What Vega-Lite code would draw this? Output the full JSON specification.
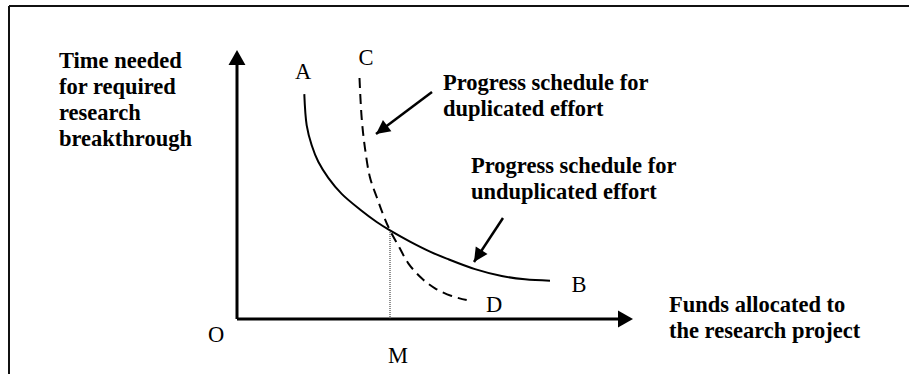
{
  "$schema": "https://vega.github.io/schema/vega-lite/v6.json",
  "width": 909,
  "height": 374,
  "padding": 0,
  "autosize": {"type": "none"},
  "background": "white",
  "config": {"view": {"stroke": null}},
  "datasets": {
    "frame": [
      {"x": -228, "y": -80, "x2": -228, "y2": 313},
      {"x": -228, "y": 313, "x2": 690, "y2": 313}
    ],
    "axes": [
      {"x": 0, "y": 0, "x2": 0, "y2": 258},
      {"x": 0, "y": 0, "x2": 385, "y2": 0}
    ],
    "yHead": [{"x": 0, "y": 269}],
    "xHead": [{"x": 396, "y": 0}],
    "unduplicated": [
      {"x": 67.3, "y": 224.9},
      {"x": 69.7, "y": 193.7},
      {"x": 74.7, "y": 173.7},
      {"x": 81.3, "y": 157.2},
      {"x": 91.3, "y": 141.2},
      {"x": 104.7, "y": 125.1},
      {"x": 123, "y": 109.5},
      {"x": 139.7, "y": 97},
      {"x": 153, "y": 88.6},
      {"x": 173, "y": 77.4},
      {"x": 193, "y": 67.4},
      {"x": 209.7, "y": 60.4},
      {"x": 238, "y": 49.9},
      {"x": 264.7, "y": 43},
      {"x": 288, "y": 39.7},
      {"x": 313, "y": 38.3}
    ],
    "duplicated": [
      {"x": 122.5, "y": 241},
      {"x": 124.7, "y": 200.7},
      {"x": 128, "y": 170.7},
      {"x": 133, "y": 141.5},
      {"x": 139.7, "y": 122},
      {"x": 146.3, "y": 104},
      {"x": 153, "y": 88.6},
      {"x": 161.3, "y": 73.5},
      {"x": 171.3, "y": 55.7},
      {"x": 184.7, "y": 40.7},
      {"x": 198, "y": 30.7},
      {"x": 214.7, "y": 23},
      {"x": 229.7, "y": 19}
    ],
    "dropline": [{"x": 153, "y": 0, "y2": 88.6}],
    "arrow1": [{"x": 195, "y": 227, "x2": 139, "y2": 185}],
    "arrow2": [{"x": 266, "y": 101, "x2": 237, "y2": 57}],
    "boldText": [
      {"x": -178, "y": 251, "label": "Time needed\nfor required\nresearch\nbreakthrough"},
      {"x": 206, "y": 229, "label": "Progress schedule for\nduplicated effort"},
      {"x": 234, "y": 146, "label": "Progress schedule for\nunduplicated effort"},
      {"x": 432, "y": 7, "label": "Funds allocated to\nthe research project"}
    ],
    "letters": [
      {"x": 66, "y": 240, "label": "A"},
      {"x": 129, "y": 254, "label": "C"},
      {"x": 342, "y": 27, "label": "B"},
      {"x": 257, "y": 7, "label": "D"},
      {"x": -21, "y": -23, "label": "O"},
      {"x": 161, "y": -44, "label": "M"}
    ]
  },
  "encoding": {
    "x": {"field": "x", "type": "quantitative", "scale": {"domain": [-237, 672], "nice": false, "zero": false}, "axis": null},
    "y": {"field": "y", "type": "quantitative", "scale": {"domain": [-55, 319], "nice": false, "zero": false}, "axis": null}
  },
  "layer": [
    {
      "data": {"name": "frame"},
      "mark": {"type": "rule", "color": "#111111", "strokeWidth": 2},
      "encoding": {"x2": {"field": "x2"}, "y2": {"field": "y2"}}
    },
    {
      "data": {"name": "axes"},
      "mark": {"type": "rule", "color": "black", "strokeWidth": 3},
      "encoding": {"x2": {"field": "x2"}, "y2": {"field": "y2"}}
    },
    {
      "data": {"name": "yHead"},
      "mark": {"type": "point", "shape": "M0,0L1.13,2L-1.13,2Z", "size": 225, "filled": true, "color": "black", "opacity": 1, "strokeWidth": 0, "angle": 0},
      "encoding": {}
    },
    {
      "data": {"name": "xHead"},
      "mark": {"type": "point", "shape": "M0,0L1.13,2L-1.13,2Z", "size": 225, "filled": true, "color": "black", "opacity": 1, "strokeWidth": 0, "angle": 90},
      "encoding": {}
    },
    {
      "data": {"name": "dropline"},
      "mark": {"type": "rule", "color": "#222222", "strokeWidth": 1, "strokeDash": [1, 1]},
      "encoding": {"y2": {"field": "y2"}}
    },
    {
      "data": {"name": "unduplicated"},
      "mark": {"type": "line", "color": "black", "strokeWidth": 2, "interpolate": "catmull-rom"},
      "encoding": {}
    },
    {
      "data": {"name": "duplicated"},
      "mark": {"type": "line", "color": "black", "strokeWidth": 2, "interpolate": "catmull-rom", "strokeDash": [10, 6]},
      "encoding": {}
    },
    {
      "data": {"name": "arrow1"},
      "mark": {"type": "rule", "color": "black", "strokeWidth": 2.5},
      "encoding": {"x2": {"field": "x2"}, "y2": {"field": "y2"}}
    },
    {
      "data": {"name": "arrow1"},
      "mark": {"type": "point", "shape": "M0,0L1,2L-1,2Z", "size": 196, "filled": true, "color": "black", "opacity": 1, "strokeWidth": 0, "angle": 233},
      "encoding": {"x": {"field": "x2", "type": "quantitative"}, "y": {"field": "y2", "type": "quantitative"}}
    },
    {
      "data": {"name": "arrow2"},
      "mark": {"type": "rule", "color": "black", "strokeWidth": 2.5},
      "encoding": {"x2": {"field": "x2"}, "y2": {"field": "y2"}}
    },
    {
      "data": {"name": "arrow2"},
      "mark": {"type": "point", "shape": "M0,0L1,2L-1,2Z", "size": 196, "filled": true, "color": "black", "opacity": 1, "strokeWidth": 0, "angle": 213},
      "encoding": {"x": {"field": "x2", "type": "quantitative"}, "y": {"field": "y2", "type": "quantitative"}}
    },
    {
      "data": {"name": "boldText"},
      "mark": {"type": "text", "font": "Liberation Serif", "fontWeight": "bold", "fontSize": 22.5, "align": "left", "baseline": "alphabetic", "lineBreak": "\n", "lineHeight": 26, "color": "black"},
      "encoding": {"text": {"field": "label"}}
    },
    {
      "data": {"name": "letters"},
      "mark": {"type": "text", "font": "Liberation Serif", "fontSize": 22.5, "align": "center", "baseline": "alphabetic", "color": "black"},
      "encoding": {"text": {"field": "label"}}
    }
  ]
}
